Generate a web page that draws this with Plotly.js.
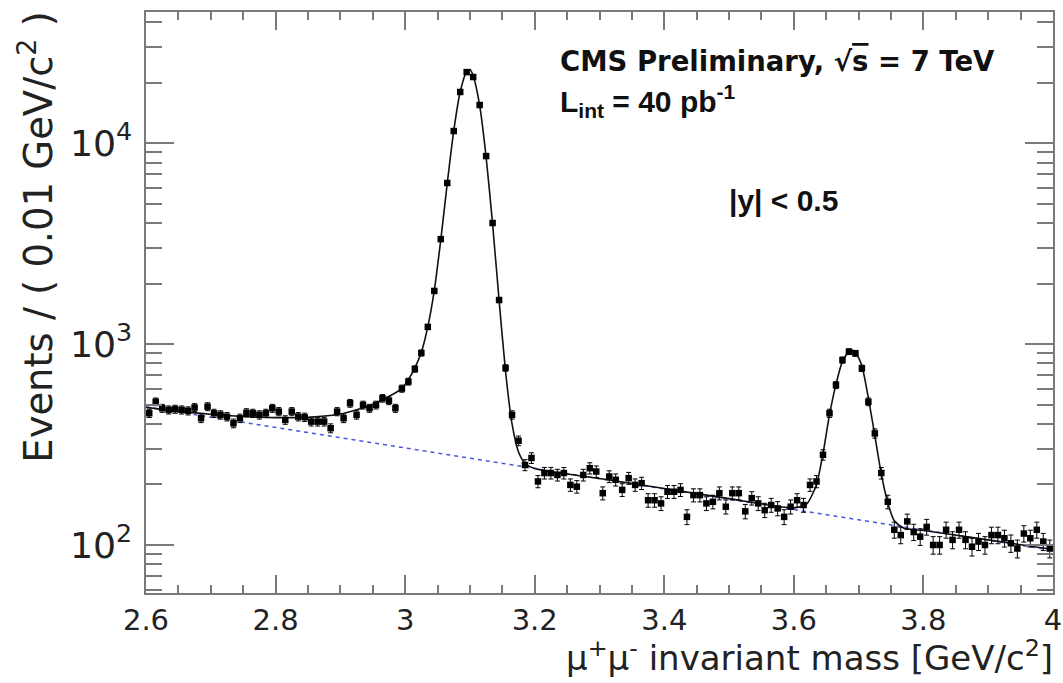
<!DOCTYPE html>
<html>
<head>
<meta charset="utf-8">
<script src="https://cdn.plot.ly/plotly-3.0.1.min.js"></script>
<style>html,body{margin:0;padding:0;background:#fff;}#chart{width:1063px;height:683px;}</style>
</head>
<body>
<div id="chart"></div>
<script>
// bin centres of the 0.01 GeV/c^2 histogram
const mass = [
2.605,2.615,2.625,2.635,2.645,2.655,2.665,2.675,2.685,2.695,
2.705,2.715,2.725,2.735,2.745,2.755,2.765,2.775,2.785,2.795,
2.805,2.815,2.825,2.835,2.845,2.855,2.865,2.875,2.885,2.895,
2.905,2.915,2.925,2.935,2.945,2.955,2.965,2.975,2.985,2.995,
3.005,3.015,3.025,3.035,3.045,3.055,3.065,3.075,3.085,3.095,
3.105,3.115,3.125,3.135,3.145,3.155,3.165,3.175,3.185,3.195,
3.205,3.215,3.225,3.235,3.245,3.255,3.265,3.275,3.285,3.295,
3.305,3.315,3.325,3.335,3.345,3.355,3.365,3.375,3.385,3.395,
3.405,3.415,3.425,3.435,3.445,3.455,3.465,3.475,3.485,3.495,
3.505,3.515,3.525,3.535,3.545,3.555,3.565,3.575,3.585,3.595,
3.605,3.615,3.625,3.635,3.645,3.655,3.665,3.675,3.685,3.695,
3.705,3.715,3.725,3.735,3.745,3.755,3.765,3.775,3.785,3.795,
3.805,3.815,3.825,3.835,3.845,3.855,3.865,3.875,3.885,3.895,
3.905,3.915,3.925,3.935,3.945,3.955,3.965,3.975,3.985,3.995];

// events per bin
const events = [
452,516,479,470,474,470,465,483,427,488,
452,444,435,403,427,455,452,444,452,479,
461,419,461,435,432,411,411,411,381,461,
427,507,444,497,479,497,537,522,479,600,
650,751,902,1216,1837,3326,6325,11470,17950,22540,
21300,15460,8610,4000,1655,760,444,330,250,271,
207,228,228,223,228,199,195,223,241,232,
181,219,211,188,215,199,203,167,167,161,
184,184,188,138,177,177,161,164,181,155,
181,181,147,171,161,149,158,152,138,155,
167,158,199,207,281,452,625,832,916,899,
757,516,359,228,164,119,112,131,116,110,
123,100,100,119,106,119,106,98,104,100,
112,112,108,102,96,114,108,119,104,96];

// total fit curve
const fitMass = [2.60,2.65,2.70,2.75,2.80,2.85,2.90,2.95,
2.995,3.005,3.015,3.025,3.035,3.045,3.055,3.065,3.075,3.085,3.095,3.100,3.105,3.115,3.125,3.135,3.145,3.155,3.165,3.175,3.185,3.20,
3.30,3.40,3.50,3.60,3.62,
3.635,3.645,3.655,3.665,3.675,3.685,3.690,3.695,3.705,3.715,3.725,3.735,3.745,3.755,
3.77,3.80,3.90,4.00];
const fitVal = [484,462,447,436,430,432,448,500,
600,665,760,910,1220,1850,3300,6300,11500,18000,22700,23200,21600,15400,8500,3950,1650,730,400,290,255,240,
214,191,170,153,160,
200,285,445,630,820,920,930,915,780,540,350,225,162,132,
121,118,106,95];

// background component
const bkgMass = [2.6,2.8,3.0,3.2,3.4,3.6,3.8,4.0];
const bkgVal = [486,385,304,240,190,150,119,94];

const xTickVals = [2.6,2.8,3.0,3.2,3.4,3.6,3.8,4.0];
const xTickText = ['2.6','2.8','3','3.2','3.4','3.6','3.8','4'];

const axisGray = '#7a7a7a';
const labelFont = {family:'DejaVu Sans, Liberation Sans, sans-serif', size:29, color:'#222'};

const traces = [
  {x:bkgMass, y:bkgVal, mode:'lines', type:'scatter',
   line:{color:'#4a55e0', width:1.5, dash:'4px,4px'}, hoverinfo:'skip'},
  {x:fitMass, y:fitVal, mode:'lines', type:'scatter',
   line:{color:'#111', width:1.6, shape:'spline', smoothing:0.6}, hoverinfo:'skip'},
  {x:mass, y:events, mode:'markers', type:'scatter',
   marker:{symbol:'square', size:6.5, color:'#000'},
   error_y:{type:'sqrt', color:'#000', thickness:1, width:2.5}}
];

const layout = {
  width:1063, height:683,
  margin:{l:146, r:10, t:12, b:90},
  paper_bgcolor:'#fff', plot_bgcolor:'#fff',
  showlegend:false,
  font:labelFont,
  xaxis:{
    range:[2.6,4.0], tickmode:'array', tickvals:xTickVals, ticktext:xTickText,
    ticks:'inside', ticklen:18, tickwidth:2, tickcolor:axisGray,
    minor:{dtick:0.05, tick0:2.6, ticks:'inside', ticklen:8, tickwidth:2, tickcolor:axisGray},
    showline:true, linecolor:axisGray, linewidth:2, mirror:'allticks',
    showgrid:false, zeroline:false, tickfont:labelFont, ticklabelstandoff:0
  },
  yaxis:{
    type:'log', range:[1.761,4.652], dtick:1, exponentformat:'power',
    ticks:'inside', ticklen:28, tickwidth:2, tickcolor:axisGray,
    minor:{dtick:'D1', ticks:'inside', ticklen:16, tickwidth:2, tickcolor:axisGray},
    showline:true, linecolor:axisGray, linewidth:2, mirror:'allticks',
    showgrid:false, zeroline:false, tickfont:labelFont, ticklabelstandoff:6
  },
  annotations:[
    {xref:'paper', yref:'paper', x:0.4542, y:0.915, xanchor:'left', yanchor:'middle', showarrow:false,
     text:"<b>CMS Preliminary, √<span style='text-decoration:overline'>s</span> = 7 TeV</b>",
     font:{family:'DejaVu Sans, Liberation Sans, sans-serif', size:27.5, color:'#111'}},
    {xref:'paper', yref:'paper', x:0.4542, y:0.847, xanchor:'left', yanchor:'middle', showarrow:false,
     text:"<b>L<sub>int</sub> = 40 pb<sup>-1</sup></b>",
     font:{family:'Liberation Sans, Arial, sans-serif', size:30, color:'#111'}},
    {xref:'paper', yref:'paper', x:0.6406, y:0.676, xanchor:'left', yanchor:'middle', showarrow:false,
     text:"<b>|y| &lt; 0.5</b>",
     font:{family:'Liberation Sans, Arial, sans-serif', size:30, color:'#111'}},
    {xref:'paper', yref:'paper', x:-0.121, y:0.612, xanchor:'center', yanchor:'middle', showarrow:false,
     textangle:-90, text:"Events / ( 0.01 GeV/c<sup>2</sup> )",
     font:{family:'DejaVu Sans, Liberation Sans, sans-serif', size:38.5, color:'#222'}},
    {xref:'paper', yref:'paper', x:1.002, y:-0.108, xanchor:'right', yanchor:'middle', showarrow:false,
     text:"μ<sup>+</sup>μ<sup>-</sup> invariant mass [GeV/c<sup>2</sup>]",
     font:{family:'DejaVu Sans, Liberation Sans, sans-serif', size:34, color:'#222'}}
  ]
};

Plotly.newPlot('chart', traces, layout, {staticPlot:true, displayModeBar:false});
</script>
</body>
</html>
